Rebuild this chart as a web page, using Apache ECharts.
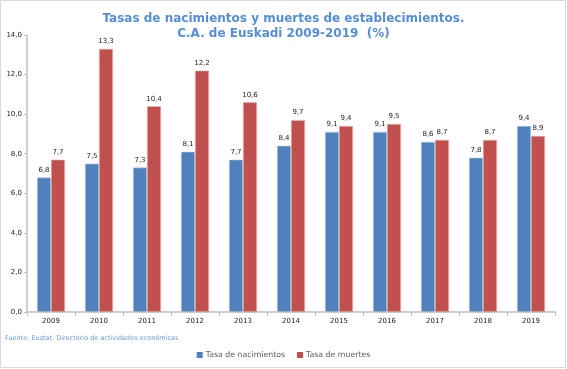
<!DOCTYPE html>
<html><head><meta charset="utf-8">
<script src="https://cdn.jsdelivr.net/npm/echarts@6/dist/echarts.min.js"></script>
<style>html,body{margin:0;padding:0;background:#fff}#c{width:567px;height:369px}</style>
</head><body><div id="c"></div>
<script>
const years = ['2009','2010','2011','2012','2013','2014','2015','2016','2017','2018','2019'];
const nacimientos = [6.8, 7.5, 7.3, 8.1, 7.7, 8.4, 9.1, 9.1, 8.6, 7.8, 9.4];
const muertes = [7.7, 13.3, 10.4, 12.2, 10.6, 9.7, 9.4, 9.5, 8.7, 8.7, 8.9];
const seriesNames = ['Tasa de nacimientos', 'Tasa de muertes'];
const titleText = 'Tasas de nacimientos y muertes de establecimientos.\nC.A. de Euskadi 2009-2019  (%)';
const sourceText = 'Fuente: Eustat. Directorio de actividades económicas';

const chart = echarts.init(document.getElementById('c'), null, {renderer: 'canvas'});
const fmt = v => v.toFixed(1).replace('.', ',');
const lbl = {show: true, position: 'top', distance: 4, fontSize: 7, color: '#222', fontFamily: 'DejaVu Sans', formatter: p => fmt(p.value)};
chart.setOption({
  animation: false,
  title: {text: titleText, left: 'center', top: 6, textStyle: {color: '#558ED5', fontSize: 12, fontWeight: 'bold', fontFamily: 'DejaVu Sans', lineHeight: 15}},
  graphic: [
    {type: 'text', left: 5, top: 335, style: {text: sourceText, fill: '#6a9ad8', fontSize: 6.5, fontFamily: 'DejaVu Sans'}},
    {type: 'rect', shape: {x: 0.5, y: 0.5, width: 565, height: 367}, style: {fill: 'none', stroke: '#d9d9d9', lineWidth: 1}, silent: true, z: -1}
  ],
  legend: {bottom: 5, left: 'center', itemWidth: 6, itemHeight: 6, itemGap: 12, icon: 'rect',
    itemStyle: {borderWidth: 0},
    textStyle: {fontSize: 7.8, color: '#595959', fontFamily: 'DejaVu Sans', padding: [0, 0, 0, -2]}, data: seriesNames},
  grid: {left: 27, right: 12, top: 35, bottom: 57, containLabel: false},
  xAxis: {type: 'category', data: years,
    axisLine: {lineStyle: {color: '#bfbfbf', width: 1.5}},
    axisTick: {show: true, alignWithLabel: false, length: 4, lineStyle: {color: '#bfbfbf'}},
    axisLabel: {fontSize: 7, color: '#222', fontFamily: 'DejaVu Sans', margin: 6}},
  yAxis: {type: 'value', min: 0, max: 14, interval: 2,
    axisLine: {show: true, lineStyle: {color: '#bfbfbf', width: 1.5}},
    axisTick: {show: true, length: 3, lineStyle: {color: '#bfbfbf'}},
    splitLine: {show: false},
    axisLabel: {fontSize: 7, color: '#222', fontFamily: 'DejaVu Sans', margin: 5, formatter: v => fmt(v)}},
  series: [
    {name: seriesNames[0], type: 'bar', data: nacimientos, barWidth: 14, barGap: '0%',
      itemStyle: {color: '#4F81BD', borderColor: '#b9cde5', borderWidth: 0.6}, label: lbl},
    {name: seriesNames[1], type: 'bar', data: muertes, barWidth: 14,
      itemStyle: {color: '#C0504D', borderColor: '#e6b9b8', borderWidth: 0.6}, label: lbl}
  ]
});
</script></body></html>
